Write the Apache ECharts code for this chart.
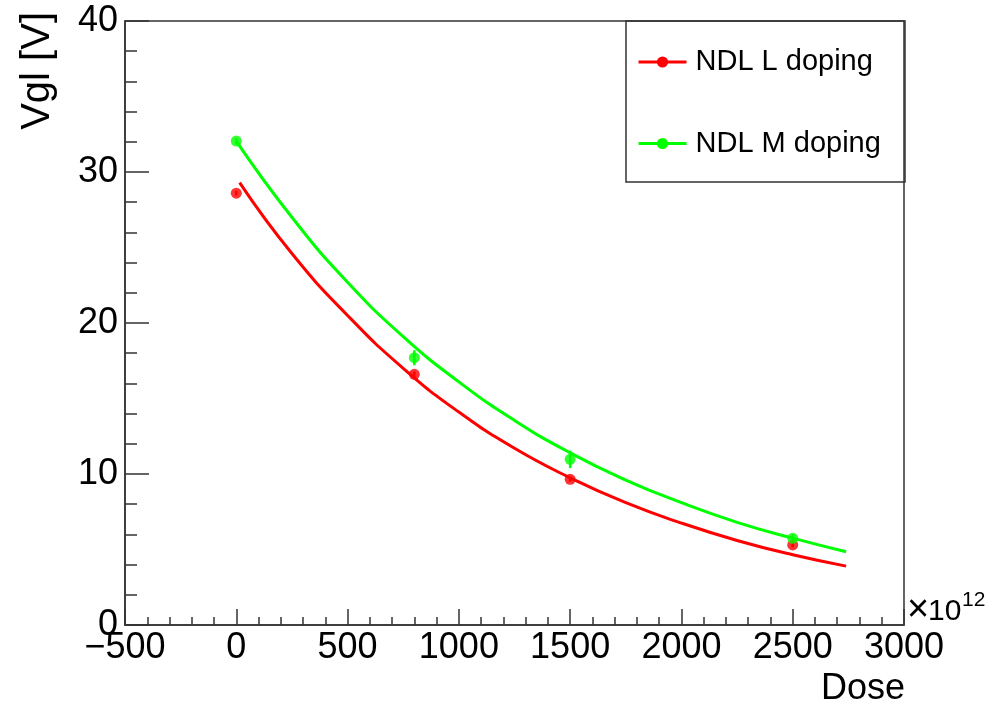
<!DOCTYPE html>
<html>
<head>
<meta charset="utf-8">
<title>Vgl vs Dose</title>
<script src="https://cdn.jsdelivr.net/npm/echarts@6/dist/echarts.min.js"></script>
<style>
  html, body { margin: 0; padding: 0; background: #fff; }
  #chart { width: 1005px; height: 707px; }
</style>
</head>
<body>
<div id="chart"></div>
<script>
// Measured points (Dose in units of 1e12)
const doseL = [0, 800, 1500, 2500];
const vglL = [28.6, 16.6, 9.65, 5.3];
const errL = [0.15, 0.2, 0.15, 0.15];

const doseM = [0, 800, 1500, 2500];
const vglM = [32.05, 17.7, 10.97, 5.74];
const errM = [0.2, 0.5, 0.58, 0.25];

// Exponential fit curves, sampled along the dose range
const fitDoseL = [15, 250, 500, 750, 1000, 1250, 1500, 1750, 2000, 2250, 2500, 2740];
const fitVglL = [29.3, 24.6, 20.5, 17.0, 14.1, 11.7, 9.75, 8.1, 6.75, 5.6, 4.65, 3.9];
const fitDoseM = [0, 250, 500, 750, 1000, 1250, 1500, 1750, 2000, 2250, 2500, 2740];
const fitVglM = [32.05, 27.0, 22.7, 19.1, 16.1, 13.55, 11.4, 9.6, 8.1, 6.8, 5.75, 4.85];

const seriesNames = ['NDL L doping', 'NDL M doping'];
const colorL = '#ff0000';
const colorM = '#00ff00';
const FONT = '"Liberation Sans", Arial, Helvetica, sans-serif';

const zip = (xs, ys) => xs.map((x, i) => [x, ys[i]]);
const errRows = (xs, ys, es) => xs.map((x, i) => [x, ys[i] - es[i], ys[i] + es[i]]);

function errorBarSeries(color, rows) {
  return {
    type: 'custom',
    z: 4,
    silent: true,
    data: rows,
    encode: { x: 0, y: [1, 2] },
    renderItem: function (params, api) {
      const lo = api.coord([api.value(0), api.value(1)]);
      const hi = api.coord([api.value(0), api.value(2)]);
      return {
        type: 'line',
        shape: { x1: lo[0], y1: lo[1], x2: hi[0], y2: hi[1] },
        style: { stroke: color, lineWidth: 2.5 }
      };
    }
  };
}

const chart = echarts.init(document.getElementById('chart'), null, { renderer: 'canvas' });

chart.setOption({
  animation: false,
  backgroundColor: '#ffffff',
  grid: {
    left: 125, top: 21, right: 101, bottom: 82,
    containLabel: false,
    outerBoundsMode: 'none',
    show: true, borderColor: '#333', borderWidth: 1.5, backgroundColor: 'transparent'
  },
  xAxis: {
    type: 'value',
    min: -500, max: 3000, interval: 500,
    axisLine: { show: true, onZero: false, lineStyle: { color: '#333', width: 1.5 } },
    axisTick: { show: true, inside: true, length: 16, lineStyle: { color: '#333', width: 1.5 } },
    minorTick: { show: true, splitNumber: 5, length: 8, lineStyle: { color: '#333', width: 1.5 } },
    axisLabel: {
      fontFamily: FONT, fontSize: 36, color: '#000', margin: 5, lineHeight: 36,
      formatter: v => String(v).replace('-', '\u2212')
    },
    splitLine: { show: false }
  },
  yAxis: {
    type: 'value',
    min: 0, max: 40, interval: 10,
    axisLine: { show: true, onZero: false, lineStyle: { color: '#333', width: 1.5 } },
    axisTick: { show: true, inside: true, length: 24, lineStyle: { color: '#333', width: 1.5 } },
    minorTick: { show: true, splitNumber: 5, length: 12, lineStyle: { color: '#333', width: 1.5 } },
    axisLabel: { fontFamily: FONT, fontSize: 36, color: '#000', margin: 7 },
    splitLine: { show: false }
  },
  legend: {
    data: seriesNames,
    orient: 'vertical',
    left: 632,
    top: 42,
    itemWidth: 48,
    itemHeight: 14,
    itemGap: 51.5,
    lineStyle: { width: 3 },
    textStyle: { fontFamily: FONT, fontSize: 29, color: '#000', lineHeight: 30, padding: [0, 0, 0, 4] },
    selectedMode: false
  },
  graphic: [
    {
      type: 'rect', z: 1, silent: true,
      shape: { x: 626, y: 21, width: 279, height: 161 },
      style: { fill: 'transparent', stroke: '#333', lineWidth: 1.5 }
    },
    {
      type: 'text', silent: true,
      x: 38, y: 12, rotation: Math.PI / 2,
      style: { text: 'Vgl [V]', fontFamily: FONT, fontSize: 40, fill: '#000', align: 'right', verticalAlign: 'middle' }
    },
    {
      type: 'text', silent: true,
      x: 905, y: 689,
      style: { text: 'Dose', fontFamily: FONT, fontSize: 36, fill: '#000', align: 'right', verticalAlign: 'middle' }
    },
    {
      type: 'text', silent: true,
      x: 907, y: 611,
      style: { text: '\u00d7', fontFamily: FONT, fontSize: 38, fill: '#000', align: 'left', verticalAlign: 'middle' }
    },
    {
      type: 'text', silent: true,
      x: 928, y: 612,
      style: { text: '10', fontFamily: FONT, fontSize: 30, fill: '#000', align: 'left', verticalAlign: 'middle' }
    },
    {
      type: 'text', silent: true,
      x: 962, y: 600,
      style: { text: '12', fontFamily: FONT, fontSize: 21, fill: '#000', align: 'left', verticalAlign: 'middle' }
    }
  ],
  series: [
    {
      name: seriesNames[0],
      type: 'line',
      data: zip(fitDoseL, fitVglL),
      smooth: true,
      symbol: 'circle',
      symbolSize: 11,
      showSymbol: false,
      z: 3,
      itemStyle: { color: colorL },
      lineStyle: { color: colorL, width: 3 }
    },
    {
      name: seriesNames[1],
      type: 'line',
      data: zip(fitDoseM, fitVglM),
      smooth: true,
      symbol: 'circle',
      symbolSize: 11,
      showSymbol: false,
      z: 3,
      itemStyle: { color: colorM },
      lineStyle: { color: colorM, width: 3 }
    },
    errorBarSeries(colorL, errRows(doseL, vglL, errL)),
    errorBarSeries(colorM, errRows(doseM, vglM, errM)),
    {
      type: 'scatter',
      data: zip(doseL, vglL),
      symbol: 'circle',
      symbolSize: 11,
      z: 5,
      itemStyle: { color: colorL }
    },
    {
      type: 'scatter',
      data: zip(doseM, vglM),
      symbol: 'circle',
      symbolSize: 11,
      z: 5,
      itemStyle: { color: colorM }
    }
  ]
});
</script>
</body>
</html>
